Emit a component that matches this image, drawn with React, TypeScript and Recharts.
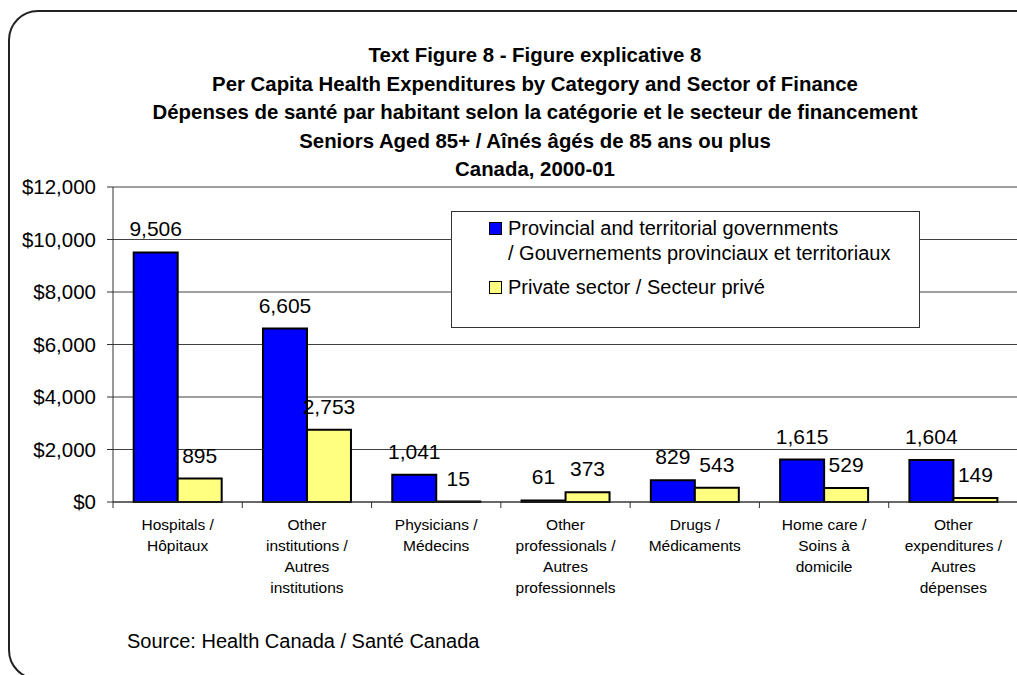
import React from 'react';
import { BarChart, Bar, XAxis, YAxis, CartesianGrid, LabelList } from 'recharts';

const categories = [
  'Hospitals /\nHôpitaux',
  'Other\ninstitutions /\nAutres\ninstitutions',
  'Physicians /\nMédecins',
  'Other\nprofessionals /\nAutres\nprofessionnels',
  'Drugs /\nMédicaments',
  'Home care /\nSoins à\ndomicile',
  'Other\nexpenditures /\nAutres\ndépenses',
];
const publicValues = [9506, 6605, 1041, 61, 829, 1615, 1604];
const privateValues = [895, 2753, 15, 373, 543, 529, 149];
const yTicks = [0, 2000, 4000, 6000, 8000, 10000, 12000];

const seriesNames = [
  'Provincial and territorial governments\n/ Gouvernements provinciaux et territoriaux',
  'Private sector / Secteur privé',
];
const seriesColors = ['#0000ff', '#ffff80'];

const titleLines = [
  'Text Figure 8 - Figure explicative 8',
  'Per Capita Health Expenditures by Category and Sector of Finance',
  'Dépenses de santé par habitant selon la catégorie et le secteur de financement',
  'Seniors Aged 85+ / Aînés âgés de 85 ans ou plus',
  'Canada, 2000-01',
];

const data = categories.map((name, i) => ({
  name,
  pub: publicValues[i],
  priv: privateValues[i],
}));

const FONT = 'Arial, "Liberation Sans", sans-serif';
const CHART_W = 1040;
const MARGIN = { top: 187, right: 22, left: 0, bottom: 23 };
const Y_W = 113;
const BAND = (CHART_W - MARGIN.right - MARGIN.left - Y_W) / categories.length;

const fmt = (v: number) => v.toLocaleString('en-US');

const CategoryTick = ({ x, y, payload }: any) => {
  const lines = String(payload.value).split('\n');
  return (
    <g>
      <line x1={x - BAND / 2} x2={x - BAND / 2} y1={y} y2={y + 6} stroke="#333" />
      <text x={x} y={y + 28} textAnchor="middle" fontSize={15.5} fill="#000" fontFamily={FONT}>
        {lines.map((l, i) => (
          <tspan key={i} x={x} dy={i === 0 ? 0 : 21}>
            {l}
          </tspan>
        ))}
      </text>
    </g>
  );
};

const App = () => {
  return (
    <div style={{ position: 'relative', width: 1017, height: 675, overflow: 'hidden', background: '#fff', fontFamily: FONT }}>
      <style>{`body{margin:0;overflow:hidden}`}</style>
      <div
        style={{
          position: 'absolute', left: 8, top: 10, width: 1040, height: 670,
          border: '2px solid #222', borderRadius: 30, boxSizing: 'border-box',
        }}
      />
      <div
        style={{
          position: 'absolute', left: 0, top: 41, width: 1070, textAlign: 'center',
          fontWeight: 'bold', fontSize: 20.4, lineHeight: '28.5px', color: '#000',
        }}
      >
        {titleLines.map((t) => (
          <div key={t}>{t}</div>
        ))}
      </div>

      <div style={{ position: 'absolute', left: 0, top: 0 }}>
        <BarChart
          width={CHART_W}
          height={675}
          data={data}
          margin={MARGIN}
          barCategoryGap="16%"
          barGap={0}
        >
          <CartesianGrid vertical={false} stroke="#404040" />
          <XAxis
            dataKey="name"
            height={150}
            interval={0}
            tickSize={0}
            tickMargin={0}
            tick={<CategoryTick />}
            stroke="#333"
          />
          <YAxis
            width={Y_W}
            domain={[0, 12000]}
            ticks={yTicks}
            tickFormatter={(v: number) => `$${fmt(v)}`}
            tickSize={6}
            tickMargin={11}
            stroke="#333"
            tick={{ fill: '#000', fontSize: 20.5, fontFamily: FONT }}
          />
          <Bar dataKey="pub" name={seriesNames[0]} fill={seriesColors[0]} stroke="#000" strokeWidth={2} isAnimationActive={false}>
            <LabelList dataKey="pub" position="top" offset={16} formatter={(v: any) => fmt(v)} fill="#000" fontSize={21} fontFamily={FONT} />
          </Bar>
          <Bar dataKey="priv" name={seriesNames[1]} fill={seriesColors[1]} stroke="#000" strokeWidth={2} isAnimationActive={false}>
            <LabelList dataKey="priv" position="top" offset={16} formatter={(v: any) => fmt(v)} fill="#000" fontSize={21} fontFamily={FONT} />
          </Bar>
        </BarChart>
      </div>

      <div
        style={{
          position: 'absolute', left: 451, top: 211, width: 469, height: 117,
          border: '1px solid #333', background: '#fff', boxSizing: 'border-box',
          fontSize: 20, color: '#000', lineHeight: '25px',
        }}
      >
        {seriesNames.map((n, i) => (
          <div key={n} style={{ position: 'absolute', left: 37, top: i === 0 ? 4 : 63, display: 'flex' }}>
            <span
              style={{
                width: 11, height: 11, marginTop: 6, marginRight: 6, flex: 'none',
                background: seriesColors[i], border: '1.5px solid #000',
              }}
            />
            <span style={{ whiteSpace: 'pre' }}>{n}</span>
          </div>
        ))}
      </div>

      <div style={{ position: 'absolute', left: 127, top: 630, fontSize: 20, color: '#000' }}>
        Source: Health Canada / Santé Canada
      </div>
    </div>
  );
};

export default App;
